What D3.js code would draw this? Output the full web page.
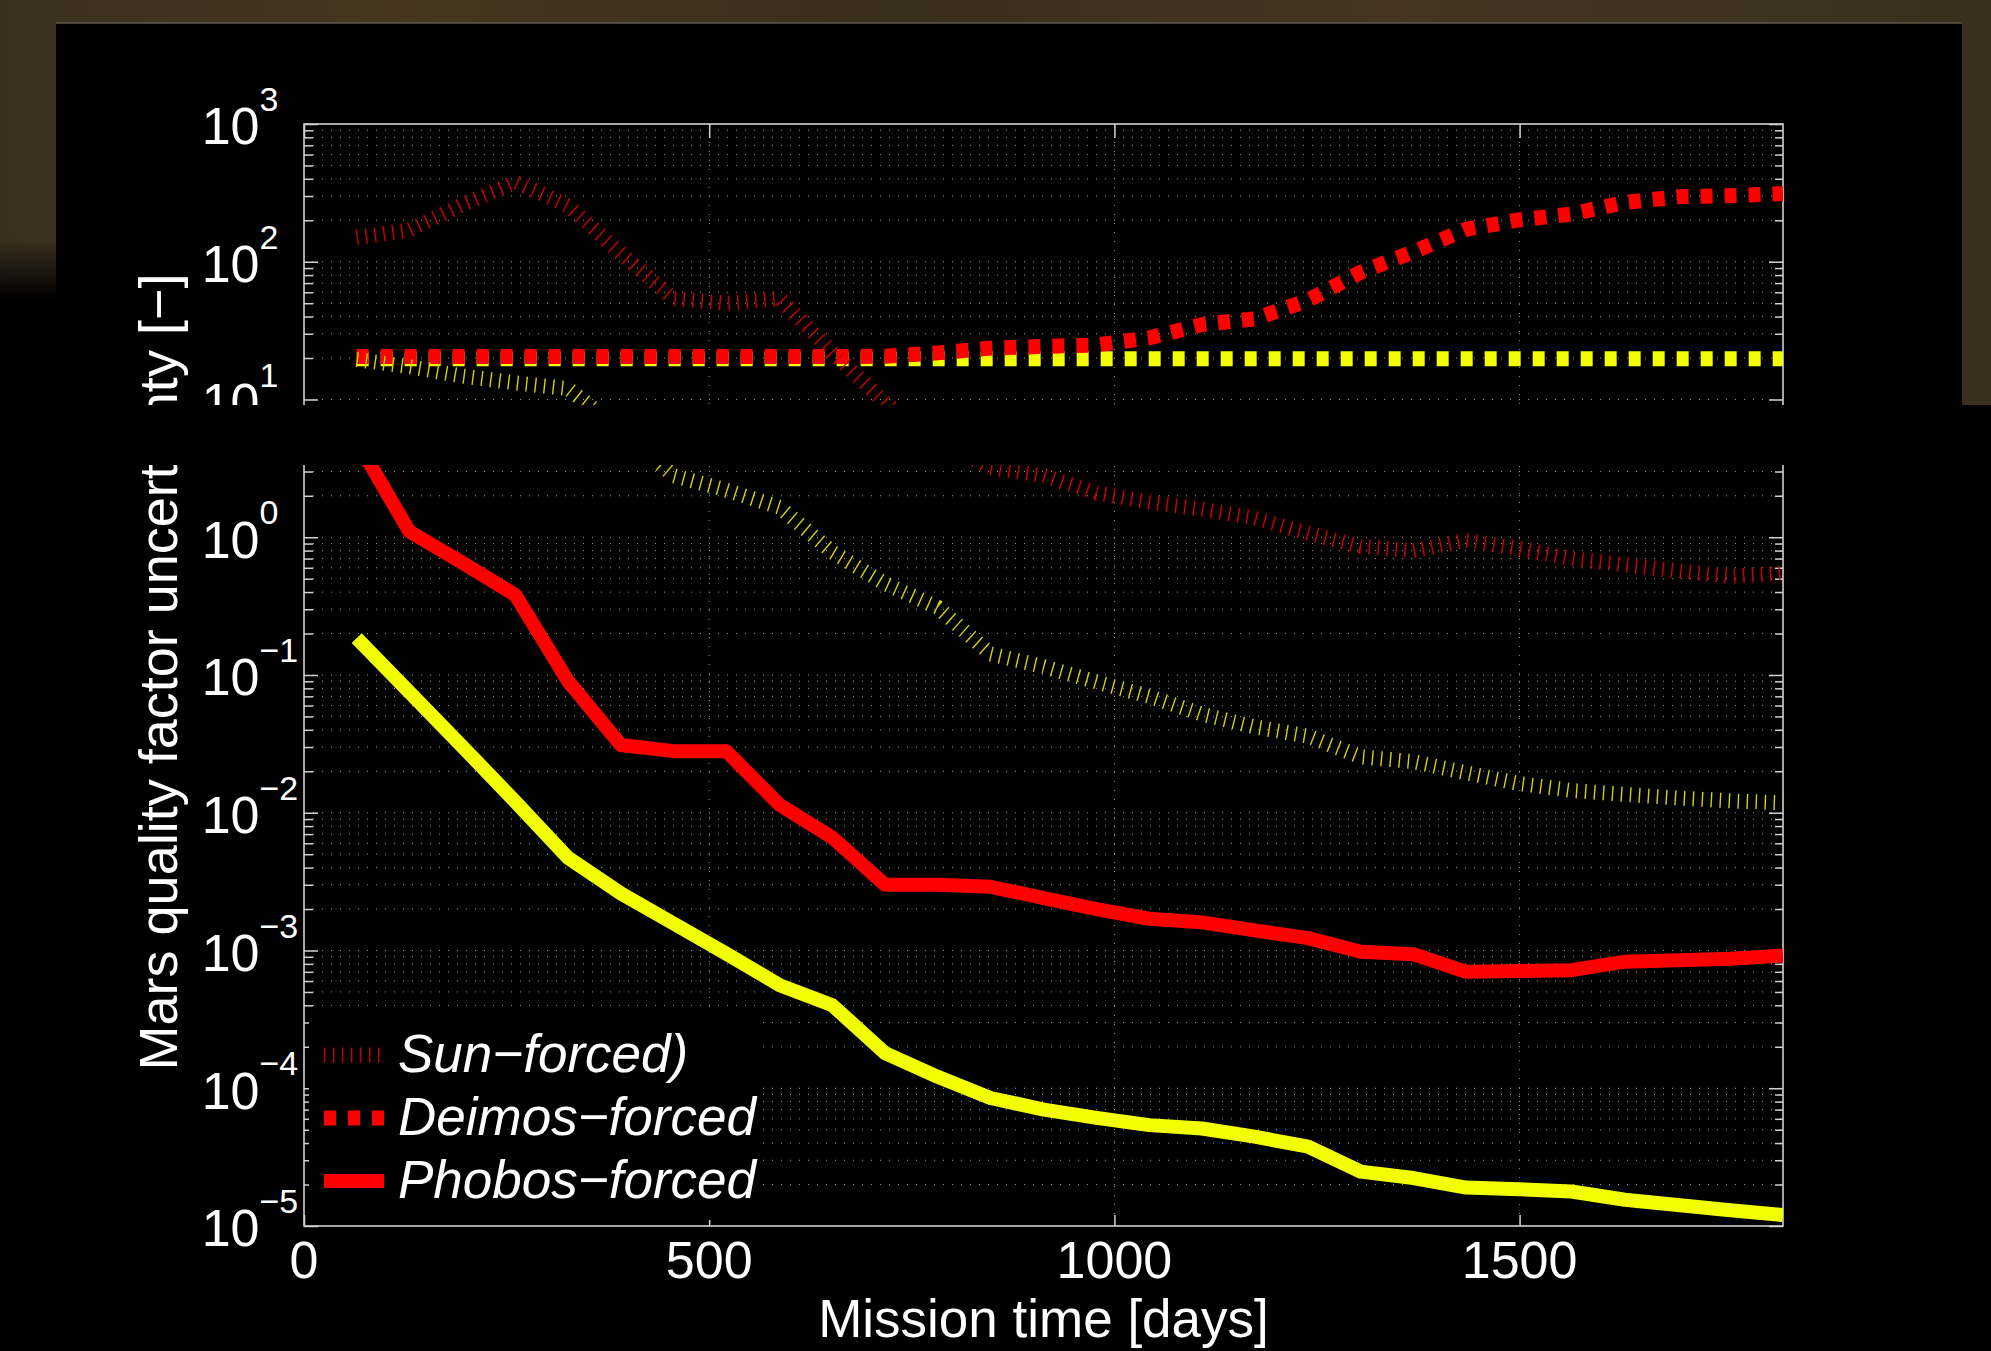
<!DOCTYPE html>
<html>
<head>
<meta charset="utf-8">
<script src="https://cdn.jsdelivr.net/npm/d3@7"></script>
<style>
  html, body { margin: 0; padding: 0; background: #000; }
  svg { display: block; }
  text { font-family: "Liberation Sans", Arial, Helvetica, sans-serif; fill: #fff; }
</style>
</head>
<body>
<svg id="chart" width="1991" height="1351"></svg>
<script>
// mission days at which the covariance was evaluated
const days = [65, 130, 196, 261, 326, 391, 456, 521, 587, 652, 717, 782, 847, 913,
              978, 1043, 1108, 1173, 1239, 1304, 1369, 1434, 1499, 1564, 1630, 1695, 1760, 1825];

// red curves
const sunRed    = [150, 170, 260, 380, 255, 115, 54, 50, 54, 22, 9.5, 5.2, 3.2, 2.8,
                   2.1, 1.8, 1.6, 1.38, 1.07, 0.86, 0.80, 0.95, 0.83, 0.70, 0.63, 0.57, 0.52, 0.55];
const deimosRed = [20.5, 20.5, 20.5, 20.5, 20.5, 20.5, 20.5, 20.5, 20.5, 20.5, 20.6, 21.8, 23.6, 24.3,
                   24.9, 28, 35, 38.5, 52.5, 84, 118, 172, 201, 222, 270, 296, 302, 312];
const phobosRed = [5.0, 1.1, 0.65, 0.38, 0.09, 0.031, 0.028, 0.028, 0.0114, 0.0066, 0.003, 0.003, 0.0029, 0.0024,
                   0.002, 0.0017, 0.0016, 0.0014, 0.00123, 0.00098, 0.00094, 0.0007, 0.00071, 0.00072, 0.00083, 0.00085, 0.00087, 0.00092];

// yellow curves
const sunYellow    = [19.5, 17.3, 14.8, 13.2, 12, 6, 2.8, 2.2, 1.65, 0.78, 0.46, 0.31, 0.142, 0.115,
                      0.089, 0.07, 0.052, 0.042, 0.036, 0.0255, 0.0235, 0.0195, 0.0163, 0.0145, 0.0136, 0.0128, 0.0122, 0.0118];
const deimosYellow = [19.8, 19.8, 19.8, 19.8, 19.8, 19.8, 19.8, 19.8, 19.8, 19.8, 19.8, 19.8, 19.8, 19.8,
                      19.8, 19.8, 19.8, 19.8, 19.8, 19.8, 19.8, 19.8, 19.8, 19.8, 19.8, 19.8, 19.8, 19.8];
const phobosYellow = [0.185, 0.075, 0.03, 0.012, 0.0047, 0.0026, 0.00157, 0.00095, 0.00056, 0.0004, 0.00018, 0.000121, 0.000085, 0.00007,
                      0.000061, 0.000054, 0.000051, 0.0000445, 0.0000377, 0.0000248, 0.0000223, 0.000019, 0.0000185, 0.0000178, 0.0000155, 0.0000142, 0.000013, 0.000012];

const xTickValues = [0, 500, 1000, 1500];
const legendLabels = ['Sun\u2212forced)', 'Deimos\u2212forced', 'Phobos\u2212forced'];

const RED = '#ff0000', YEL = '#f2ff00';
const styles = {
  sun:    { width: 15, dash: '1.4,7.6', join: 'miter' },
  deimos: { width: 15, dash: '12,12',   join: 'miter' },
  phobos: { width: 14, dash: null,      join: 'round' }
};

const pL = 304, pR = 1783, pT = 124, pB = 1226;
const x = d3.scaleLinear().domain([0, 1825]).range([pL, pR]);
const y = d3.scaleLog().domain([1e-5, 1e3]).range([pB, pT]);

const svg = d3.select('#chart');
const defs = svg.append('defs');

// slide backdrop (brown stone behind the upper picture)
const bg = defs.append('linearGradient').attr('id', 'brown').attr('x1', 0).attr('x2', 1).attr('y1', 0).attr('y2', 0);
[['0%', '#3b2f1f'], ['20%', '#45371f'], ['45%', '#3a2e1c'], ['70%', '#443621'], ['100%', '#3a2f1f']]
  .forEach(s => bg.append('stop').attr('offset', s[0]).attr('stop-color', s[1]));
const fade = defs.append('linearGradient').attr('id', 'fade').attr('x1', 0).attr('x2', 0).attr('y1', 0).attr('y2', 1);
fade.append('stop').attr('offset', '0%').attr('stop-color', '#000').attr('stop-opacity', 0);
fade.append('stop').attr('offset', '100%').attr('stop-color', '#000').attr('stop-opacity', 1);

svg.append('rect').attr('width', 1991).attr('height', 1351).attr('fill', '#000');
svg.append('rect').attr('width', 1991).attr('height', 405).attr('fill', 'url(#brown)');
svg.append('rect').attr('x', 0).attr('y', 238).attr('width', 56).attr('height', 62).attr('fill', 'url(#fade)');
svg.append('rect').attr('x', 0).attr('y', 300).attr('width', 56).attr('height', 105).attr('fill', '#000');
svg.append('rect').attr('x', 56).attr('y', 23).attr('width', 1906).attr('height', 382).attr('fill', '#000');
svg.append('line').attr('x1', 56).attr('x2', 1962).attr('y1', 23).attr('y2', 23)
  .attr('stroke', '#5f574a').attr('stroke-width', 1.5);

defs.append('clipPath').attr('id', 'plot')
  .append('rect').attr('x', pL).attr('y', pT).attr('width', pR - pL).attr('height', pB - pT);

// grid
const allY = y.ticks();
const isMajor = v => Math.abs(Math.log10(v) - Math.round(Math.log10(v))) < 1e-6;
const grid = svg.append('g').attr('stroke', '#9a9a9a').attr('stroke-width', 1).attr('stroke-dasharray', '1,8');
grid.selectAll('.hg').data(allY.filter(v => v > 1.0001e-5 && v < 999)).join('line')
  .attr('x1', pL).attr('x2', pR).attr('y1', d => y(d)).attr('y2', d => y(d));
grid.selectAll('.vg').data(xTickValues.slice(1)).join('line')
  .attr('x1', d => x(d)).attr('x2', d => x(d)).attr('y1', pT).attr('y2', pB);

// axes (inward ticks, MATLAB style)
const axisColor = '#d0d0d0';
function styleAxis(g) {
  g.select('.domain').remove();
  g.selectAll('text').remove();
  g.selectAll('line').attr('stroke', axisColor).attr('stroke-width', 1.5);
}
const minorY = allY.filter(v => !isMajor(v));
const majorY = allY.filter(isMajor);
svg.append('g').attr('transform', `translate(${pL},0)`).call(d3.axisLeft(y).tickValues(minorY).tickSize(-9)).call(styleAxis);
svg.append('g').attr('transform', `translate(${pL},0)`).call(d3.axisLeft(y).tickValues(majorY).tickSize(-14)).call(styleAxis);
svg.append('g').attr('transform', `translate(${pR},0)`).call(d3.axisRight(y).tickValues(minorY).tickSize(-8)).call(styleAxis);
svg.append('g').attr('transform', `translate(${pR},0)`).call(d3.axisRight(y).tickValues(majorY).tickSize(-14)).call(styleAxis);
svg.append('g').attr('transform', `translate(0,${pB})`).call(d3.axisBottom(x).tickValues(xTickValues).tickSize(-11)).call(styleAxis);
svg.append('g').attr('transform', `translate(0,${pT})`).call(d3.axisTop(x).tickValues(xTickValues).tickSize(-14)).call(styleAxis);

svg.append('rect').attr('x', pL).attr('y', pT).attr('width', pR - pL).attr('height', pB - pT)
  .attr('fill', 'none').attr('stroke', axisColor).attr('stroke-width', 1.6);

// curves
const line = d3.line().x((d, i) => x(days[i])).y(d => y(d));
const series = [
  { v: deimosYellow, c: YEL, s: styles.deimos },
  { v: deimosRed,    c: RED, s: styles.deimos },
  { v: phobosYellow, c: YEL, s: styles.phobos },
  { v: phobosRed,    c: RED, s: styles.phobos },
  { v: sunRed,       c: '#d00000', s: styles.sun },
  { v: sunYellow,    c: '#d4d400', s: styles.sun }
];
const plot = svg.append('g').attr('clip-path', 'url(#plot)');
series.forEach(d => {
  plot.append('path').datum(d.v)
    .attr('d', line)
    .attr('fill', 'none')
    .attr('stroke', d.c)
    .attr('stroke-width', d.s.width)
    .attr('stroke-dasharray', d.s.dash)
    .attr('stroke-linejoin', d.s.join)
    .attr('stroke-linecap', 'butt');
});

// legend
const lg = svg.append('g');
lg.append('rect').attr('x', 309).attr('y', 1012).attr('width', 454).attr('height', 208).attr('fill', '#000');
const legendStyles = [[styles.sun, '#c80000'], [styles.deimos, RED], [styles.phobos, RED]];
legendLabels.forEach((lab, i) => {
  const cy = 1055 + i * 63;
  lg.append('line').attr('x1', 324).attr('x2', 384).attr('y1', cy).attr('y2', cy)
    .attr('stroke', legendStyles[i][1]).attr('stroke-width', legendStyles[i][0].width)
    .attr('stroke-dasharray', legendStyles[i][0].dash);
  lg.append('text').attr('x', 398).attr('y', cy + 17).attr('font-size', 53)
    .attr('font-style', 'italic').text(lab);
});

// tick labels
majorY.forEach(v => {
  const k = Math.round(Math.log10(v));
  const ty = y(v);
  svg.append('text').attr('x', 201.7).attr('y', ty + 20.4).attr('font-size', 52).text('10');
  svg.append('text').attr('x', 259.5).attr('y', ty - 13).attr('font-size', 34)
    .text(k < 0 ? '\u2212' + Math.abs(k) : String(k));
});
svg.selectAll('.xl').data(xTickValues).join('text')
  .attr('x', d => x(d)).attr('y', 1278).attr('font-size', 52).attr('text-anchor', 'middle').text(d => d);

svg.append('text').attr('x', (pL + pR) / 2).attr('y', 1337).attr('font-size', 53)
  .attr('text-anchor', 'middle').text('Mission time [days]');
svg.append('text').attr('transform', 'translate(177,672) rotate(-90)').attr('font-size', 54)
  .attr('text-anchor', 'middle').text('Mars quality factor uncertainty [\u2212]');

// black strip between the two pasted picture halves
svg.append('rect').attr('x', 0).attr('y', 405).attr('width', 1991).attr('height', 60).attr('fill', '#000');
</script>
</body>
</html>
